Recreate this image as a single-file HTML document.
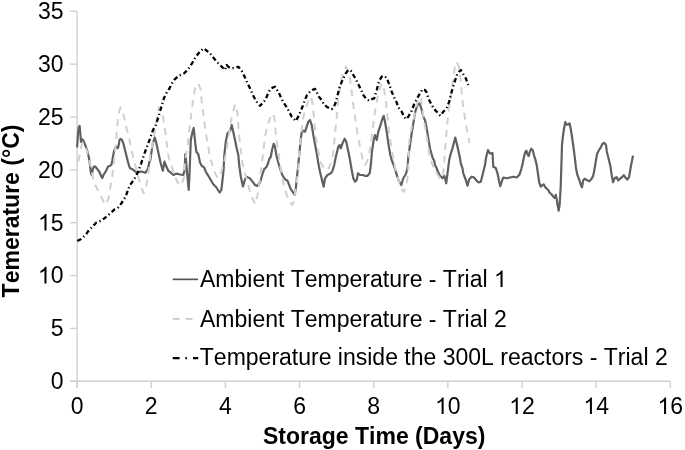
<!DOCTYPE html>
<html><head><meta charset="utf-8"><style>
html,body{margin:0;padding:0;background:#fff;}
svg{display:block;font-family:"Liberation Sans",sans-serif;fill:#000;font-kerning:none;filter:grayscale(1);}
</style></head><body>
<svg width="685" height="450" viewBox="0 0 685 450">
<line x1="77.1" y1="11.3" x2="77.1" y2="388.0" stroke="#d0d0d0" stroke-width="1.4"/>
<line x1="70.1" y1="381.3" x2="670.3" y2="381.3" stroke="#d0d0d0" stroke-width="1.4"/>
<line x1="70.1" y1="381.30" x2="77.1" y2="381.30" stroke="#d0d0d0" stroke-width="1.4"/>
<text x="50.71" y="389.10" font-size="23">0</text>
<line x1="70.1" y1="328.44" x2="77.1" y2="328.44" stroke="#d0d0d0" stroke-width="1.4"/>
<text x="50.71" y="336.24" font-size="23">5</text>
<line x1="70.1" y1="275.59" x2="77.1" y2="275.59" stroke="#d0d0d0" stroke-width="1.4"/>
<text x="37.92" y="283.39" font-size="23"> 0</text>
<path transform="translate(37.92,283.39) scale(0.011230,-0.011230)" d="M763 0H583V1147Q518 1085 412.5 1023T223 930V1104Q374 1175 487 1276T647 1472H763V0Z"/>
<line x1="70.1" y1="222.73" x2="77.1" y2="222.73" stroke="#d0d0d0" stroke-width="1.4"/>
<text x="37.92" y="230.53" font-size="23"> 5</text>
<path transform="translate(37.92,230.53) scale(0.011230,-0.011230)" d="M763 0H583V1147Q518 1085 412.5 1023T223 930V1104Q374 1175 487 1276T647 1472H763V0Z"/>
<line x1="70.1" y1="169.87" x2="77.1" y2="169.87" stroke="#d0d0d0" stroke-width="1.4"/>
<text x="37.92" y="177.67" font-size="23">20</text>
<line x1="70.1" y1="117.01" x2="77.1" y2="117.01" stroke="#d0d0d0" stroke-width="1.4"/>
<text x="37.92" y="124.81" font-size="23">25</text>
<line x1="70.1" y1="64.16" x2="77.1" y2="64.16" stroke="#d0d0d0" stroke-width="1.4"/>
<text x="37.92" y="71.96" font-size="23">30</text>
<line x1="70.1" y1="11.30" x2="77.1" y2="11.30" stroke="#d0d0d0" stroke-width="1.4"/>
<text x="37.92" y="19.10" font-size="23">35</text>
<line x1="77.10" y1="381.3" x2="77.10" y2="388.0" stroke="#d0d0d0" stroke-width="1.4"/>
<text x="70.70" y="414.00" font-size="23">0</text>
<line x1="151.25" y1="381.3" x2="151.25" y2="388.0" stroke="#d0d0d0" stroke-width="1.4"/>
<text x="144.85" y="414.00" font-size="23">2</text>
<line x1="225.40" y1="381.3" x2="225.40" y2="388.0" stroke="#d0d0d0" stroke-width="1.4"/>
<text x="219.00" y="414.00" font-size="23">4</text>
<line x1="299.55" y1="381.3" x2="299.55" y2="388.0" stroke="#d0d0d0" stroke-width="1.4"/>
<text x="293.15" y="414.00" font-size="23">6</text>
<line x1="373.70" y1="381.3" x2="373.70" y2="388.0" stroke="#d0d0d0" stroke-width="1.4"/>
<text x="367.30" y="414.00" font-size="23">8</text>
<line x1="447.85" y1="381.3" x2="447.85" y2="388.0" stroke="#d0d0d0" stroke-width="1.4"/>
<text x="435.06" y="414.00" font-size="23"> 0</text>
<path transform="translate(435.06,414.00) scale(0.011230,-0.011230)" d="M763 0H583V1147Q518 1085 412.5 1023T223 930V1104Q374 1175 487 1276T647 1472H763V0Z"/>
<line x1="522.00" y1="381.3" x2="522.00" y2="388.0" stroke="#d0d0d0" stroke-width="1.4"/>
<text x="509.21" y="414.00" font-size="23"> 2</text>
<path transform="translate(509.21,414.00) scale(0.011230,-0.011230)" d="M763 0H583V1147Q518 1085 412.5 1023T223 930V1104Q374 1175 487 1276T647 1472H763V0Z"/>
<line x1="596.15" y1="381.3" x2="596.15" y2="388.0" stroke="#d0d0d0" stroke-width="1.4"/>
<text x="583.36" y="414.00" font-size="23"> 4</text>
<path transform="translate(583.36,414.00) scale(0.011230,-0.011230)" d="M763 0H583V1147Q518 1085 412.5 1023T223 930V1104Q374 1175 487 1276T647 1472H763V0Z"/>
<line x1="670.30" y1="381.3" x2="670.30" y2="388.0" stroke="#d0d0d0" stroke-width="1.4"/>
<text x="657.51" y="414.00" font-size="23"> 6</text>
<path transform="translate(657.51,414.00) scale(0.011230,-0.011230)" d="M763 0H583V1147Q518 1085 412.5 1023T223 930V1104Q374 1175 487 1276T647 1472H763V0Z"/>
<text x="374.2" y="443.6" text-anchor="middle" font-size="23" font-weight="bold">Storage Time (Days)</text>
<text transform="translate(18.5,211) rotate(-90)" text-anchor="middle" font-size="23" font-weight="bold">Temerature (°C)</text>
<line x1="172.7" y1="279.35" x2="198" y2="279.35" stroke="#555" stroke-width="1.7"/>
<text x="200.00" y="287.00" font-size="23">Ambient Temperature - Trial  </text>
<path transform="translate(493.98,287.00) scale(0.011230,-0.011230)" d="M763 0H583V1147Q518 1085 412.5 1023T223 930V1104Q374 1175 487 1276T647 1472H763V0Z"/>
<line x1="172.7" y1="318.9" x2="198" y2="318.9" stroke="#c8c8c8" stroke-width="1.7" stroke-dasharray="6.9 6"/>
<text x="200" y="327" font-size="23">Ambient Temperature - Trial 2</text>
<line x1="172.7" y1="358.1" x2="198.2" y2="358.1" stroke="#000" stroke-width="2.2" stroke-dasharray="6.9 5.7 1.6 6.1"/>
<text x="199.8" y="365.3" font-size="23">Temperature inside the 300L reactors - Trial 2</text>
<polyline points="77.1,147.5 77.6,140.0 77.9,135.0 78.7,127.4 79.6,125.9 80.2,132.0 81.0,142.0 81.8,139.0 83.0,140.0 84.1,142.2 85.7,146.1 87.2,150.8 88.8,157.0 89.6,161.7 90.3,167.9 91.1,174.1 91.9,175.0 92.7,169.4 94.2,166.3 95.8,167.1 98.1,170.2 99.7,172.5 101.2,176.4 102.3,178.0 103.5,174.9 105.1,172.5 106.7,169.4 108.2,166.3 109.8,166.0 111.4,164.7 112.4,160.2 113.3,154.9 114.2,150.4 115.6,147.8 116.9,146.9 117.8,148.2 118.7,145.1 119.6,139.8 120.4,138.9 121.8,139.8 123.1,142.4 124.0,146.0 125.3,151.3 126.7,156.7 128.0,162.0 129.3,166.4 130.0,168.2 132.0,169.0 134.5,170.8 136.2,172.5 138.7,172.0 140.3,171.7 142.0,171.7 145.3,172.8 147.8,169.2 149.5,161.7 150.3,160.0 152.8,143.3 154.8,137.5 156.0,141.7 157.8,150.0 160.3,161.7 162.8,170.8 164.5,161.7 166.0,165.8 168.3,170.8 170.0,172.0 173.3,175.0 175.0,174.2 177.5,173.7 180.0,174.5 183.3,175.0 184.7,170.0 185.3,154.2 186.0,160.0 187.0,172.0 188.7,190.0 189.5,175.0 190.8,140.0 192.5,131.7 193.7,128.0 195.3,143.3 196.3,151.7 198.3,154.2 200.0,162.5 201.7,165.8 204.2,167.5 205.8,171.7 208.3,175.8 210.8,180.0 213.3,184.2 215.8,186.7 218.0,190.0 219.7,192.5 221.3,190.0 222.5,180.0 223.7,168.3 224.2,156.7 225.8,141.7 227.5,133.3 229.2,131.7 230.5,130.0 231.7,125.0 233.3,132.0 235.0,140.0 236.7,148.3 238.3,155.0 239.2,165.0 240.8,176.7 243.0,186.5 244.5,181.0 246.3,176.7 248.0,177.5 250.0,178.3 252.5,181.7 255.0,185.0 257.2,186.0 260.0,182.5 262.5,174.0 264.2,169.2 266.7,166.7 268.3,162.5 269.2,159.2 270.8,156.7 272.0,150.0 273.7,143.7 275.0,146.7 276.3,155.0 278.0,161.7 280.0,168.3 282.5,175.5 285.0,179.2 287.5,180.8 289.2,185.0 290.8,189.2 292.5,191.7 294.7,194.7 295.8,188.3 297.0,176.7 298.3,165.0 299.2,155.0 300.8,138.3 301.7,132.5 303.3,130.8 305.0,131.7 306.7,126.7 308.3,121.7 310.0,120.0 311.7,125.0 313.3,135.0 315.8,148.3 317.0,155.0 318.3,163.3 320.0,171.7 322.0,180.0 323.7,186.7 325.0,178.3 327.5,175.0 330.8,173.3 332.5,170.8 334.2,165.0 335.8,157.0 338.3,146.7 339.7,145.0 340.8,148.3 342.5,143.3 344.7,138.7 346.3,141.7 348.0,150.0 349.7,158.3 350.5,163.0 351.7,170.0 353.3,178.3 355.0,181.7 356.7,180.0 358.0,173.3 360.0,175.0 362.5,175.0 365.0,175.8 367.5,175.8 369.7,173.3 370.8,165.0 372.0,151.7 373.7,140.0 375.0,135.0 376.7,140.0 378.3,131.7 380.0,126.7 382.0,120.0 383.7,115.8 385.0,121.7 386.7,131.7 388.3,143.3 390.3,155.0 391.7,160.0 394.2,166.7 395.8,171.7 398.3,180.0 401.3,185.0 403.3,178.3 405.8,174.2 407.5,168.3 408.3,156.7 410.0,145.0 411.7,133.3 413.3,123.3 415.3,111.7 417.5,105.0 419.5,103.3 421.3,108.3 423.3,116.7 425.0,120.0 426.7,128.3 428.3,138.3 430.0,148.3 432.5,157.5 434.2,160.8 435.0,165.0 436.7,168.3 437.5,170.8 440.0,175.8 442.5,178.3 444.2,175.8 445.0,178.0 446.2,183.3 447.5,173.3 449.2,160.0 450.8,153.3 452.5,148.3 455.3,137.5 457.5,146.7 460.0,158.3 460.8,163.3 462.5,168.3 463.3,173.3 465.8,180.0 467.5,185.8 469.2,179.2 471.7,176.7 474.2,177.5 476.7,180.8 478.7,182.5 480.8,181.7 482.5,175.0 485.0,165.0 486.0,158.0 486.7,155.0 488.0,150.0 489.7,153.3 491.3,153.3 492.5,153.0 493.3,166.7 495.8,168.0 497.5,173.3 499.2,181.7 500.3,186.3 501.7,181.7 503.3,177.5 506.7,178.3 510.0,177.5 513.3,176.7 516.7,177.5 519.2,175.0 520.0,173.3 521.3,169.0 522.7,163.3 524.0,156.7 525.3,152.0 526.4,150.7 527.7,154.7 528.7,156.0 530.0,151.3 531.3,148.7 532.7,150.0 534.0,155.3 535.3,159.3 536.7,165.0 538.0,174.0 539.3,182.7 540.7,186.7 542.0,185.5 543.7,184.3 545.3,187.3 546.7,188.7 548.3,190.0 549.6,192.7 551.3,194.0 553.3,196.7 554.7,198.0 555.7,194.9 556.7,198.7 557.6,205.3 558.7,210.7 559.7,204.0 560.7,186.7 561.3,168.0 562.0,144.7 562.9,136.7 564.0,128.7 565.3,122.0 566.7,124.7 568.0,124.5 569.6,123.3 570.7,128.7 572.0,136.7 573.3,146.0 574.7,156.7 576.0,168.0 577.3,174.7 579.3,180.0 581.1,185.3 582.0,187.3 583.3,180.0 584.7,178.7 586.7,180.0 589.3,181.3 591.3,179.3 593.1,176.0 594.0,172.0 595.3,164.4 597.1,153.8 598.9,150.2 600.7,147.6 602.4,144.0 604.2,142.8 606.0,144.9 606.9,152.0 608.7,159.1 610.4,166.2 611.7,175.1 613.1,182.2 614.9,177.8 616.7,177.2 618.1,180.4 620.2,178.7 622.0,177.2 623.8,175.1 625.6,177.8 627.3,179.6 629.1,176.9 630.9,166.2 633.0,155.6" fill="none" stroke="#606060" stroke-width="2.2" stroke-linejoin="round"/>
<polyline points="78.3,161.5 79.3,157.0 80.3,152.5 81.2,147.5 82.0,144.0 83.0,142.5 84.5,145.0 86.4,149.6 89.1,158.4 91.5,170.0 93.6,181.6 96.2,186.9 98.9,192.2 101.6,197.6 104.2,202.9 106.0,204.7 108.7,197.6 110.4,186.9 112.2,176.2 114.0,162.0 115.2,149.6 116.7,133.6 118.0,118.0 119.5,110.0 120.7,107.5 122.0,110.0 124.0,116.7 126.7,128.7 129.5,140.0 131.5,150.0 134.0,160.0 136.5,170.0 138.7,178.3 141.2,186.7 143.7,193.3 146.2,186.7 147.8,176.7 149.0,168.3 150.3,155.0 153.7,138.3 156.2,121.7 158.7,107.3 160.5,109.0 162.7,115.3 164.7,127.3 166.7,143.3 168.3,155.0 170.0,163.3 171.7,166.7 175.0,176.7 178.0,183.0 180.0,185.8 181.7,184.2 184.2,176.7 185.0,161.7 187.5,146.7 190.0,125.0 191.7,110.0 193.3,98.3 195.0,88.3 198.3,83.3 200.8,90.0 201.7,101.7 203.3,113.3 205.8,133.3 208.3,146.7 210.0,159.2 211.7,162.0 212.5,165.0 215.0,173.3 217.5,177.5 218.3,178.3 220.8,173.3 223.3,165.0 225.0,158.3 226.7,148.3 229.2,133.3 231.7,116.7 235.0,105.0 235.8,104.2 237.5,114.0 239.2,136.7 240.8,150.0 242.5,164.0 245.0,173.3 248.3,185.0 250.8,195.0 253.3,200.0 255.3,204.2 257.5,195.0 259.2,185.0 260.8,171.7 262.5,158.0 265.0,136.7 267.5,125.0 270.5,117.0 272.8,113.5 274.5,118.0 275.8,133.3 277.5,146.7 279.2,158.3 280.8,169.0 282.5,178.3 284.2,186.7 286.7,195.0 289.2,200.8 292.0,205.0 293.7,201.7 297.0,180.0 298.7,165.0 299.2,151.7 301.0,135.0 303.3,116.7 305.8,108.0 308.0,101.5 311.1,96.7 312.5,104.0 313.9,116.7 314.4,124.4 315.8,136.7 318.3,151.7 320.8,163.3 324.2,168.3 326.7,170.0 328.5,168.3 330.8,163.3 333.3,153.3 335.0,133.3 336.7,116.7 338.0,101.7 340.8,81.7 343.3,71.7 345.8,66.7 348.0,71.0 350.0,78.3 351.7,91.7 353.3,105.0 355.0,116.7 357.5,133.3 360.0,146.7 362.5,158.3 365.0,165.0 367.0,162.0 369.2,155.0 371.7,136.7 374.2,116.7 376.7,102.0 378.3,93.3 381.7,83.3 384.2,90.0 385.8,101.7 387.5,116.7 389.2,133.3 391.5,148.0 394.2,164.0 396.7,175.0 400.0,185.0 403.3,191.7 405.8,188.3 407.5,178.3 408.3,168.3 409.2,141.7 411.7,126.7 414.2,116.7 416.7,105.0 418.5,99.0 420.8,96.7 422.0,105.0 423.3,116.7 426.7,136.7 429.2,153.3 430.0,158.3 433.3,166.7 436.7,173.3 440.0,178.3 441.7,179.2 443.3,173.3 444.2,163.3 445.0,150.0 446.7,130.0 448.3,113.3 450.0,100.0 451.7,90.0 453.3,78.3 455.0,66.0 456.7,61.8 458.7,66.0 460.3,76.7 461.3,88.3 462.5,100.0 463.3,108.3 464.2,113.3 466.7,129.0 469.5,143.0" fill="none" stroke="#d0d0d0" stroke-width="2" stroke-dasharray="7 5.8" stroke-linejoin="round"/>
<polyline points="77.3,241.0 81.2,239.0 86.0,234.4 89.1,229.8 92.2,227.0 96.4,222.5 101.3,220.7 106.2,216.8 111.7,212.1 114.8,209.1 118.5,207.2 122.1,202.3 125.8,196.2 129.5,185.8 133.7,180.0 137.8,172.5 141.2,163.3 145.0,152.0 149.5,140.0 153.0,130.0 156.0,124.7 159.3,114.0 162.0,104.7 164.0,98.0 167.3,91.3 169.3,88.7 172.0,83.3 174.7,79.3 178.5,76.0 184.2,73.3 187.5,70.0 190.0,66.7 192.5,62.5 195.8,56.7 199.2,52.5 201.7,50.0 204.2,48.3 206.7,50.8 209.2,52.5 213.3,57.5 216.7,61.7 220.0,65.0 223.3,68.3 225.0,70.0 226.7,65.0 228.5,67.0 230.8,68.3 235.0,68.0 238.3,66.7 241.7,70.8 245.0,77.5 247.5,83.3 250.0,88.3 252.5,94.2 254.2,97.5 256.7,101.7 260.0,105.8 262.5,103.3 265.8,99.2 268.3,92.5 271.1,88.3 275.0,86.7 278.9,92.8 281.1,97.8 283.3,102.2 286.7,107.2 290.0,113.3 291.7,116.7 295.8,121.1 299.4,114.4 300.6,111.1 302.4,107.0 304.4,101.1 307.0,95.0 310.0,91.7 312.0,90.0 315.0,88.9 316.7,92.2 318.9,96.7 321.7,100.0 323.9,104.4 326.7,106.7 329.4,108.3 331.7,109.1 333.9,106.7 335.6,102.8 337.8,94.4 339.4,87.8 342.5,80.0 345.8,73.3 348.3,70.0 350.8,70.8 353.3,75.0 355.8,79.2 358.3,84.2 360.8,89.2 363.3,95.0 365.8,98.3 369.2,100.8 371.7,99.2 374.2,98.3 376.7,90.0 379.2,80.8 381.7,76.7 384.2,75.8 386.7,78.0 389.2,84.2 391.7,91.7 394.2,97.5 396.7,102.5 398.3,107.5 401.7,111.7 404.2,116.7 405.8,119.2 408.3,116.7 411.7,110.8 414.2,104.0 416.7,99.2 420.0,93.3 422.5,89.2 425.0,90.0 426.7,92.5 428.3,98.3 431.7,105.0 434.2,109.2 437.5,112.5 440.3,115.8 443.3,111.7 446.7,108.3 449.2,101.7 451.7,91.7 454.2,83.3 457.5,73.3 460.8,70.0 464.2,75.8 465.8,78.3 468.3,85.0" fill="none" stroke="#000" stroke-width="2.3" stroke-dasharray="4.5 2.8 1.3 2.8" stroke-linejoin="round"/>
</svg>
</body></html>
